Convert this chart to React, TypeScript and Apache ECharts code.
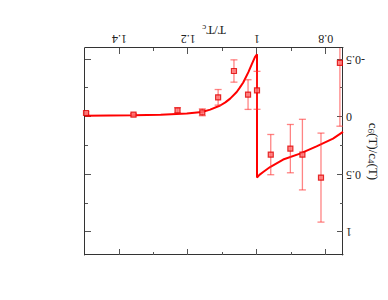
import React, { useEffect, useRef } from "react";
import * as echarts from "echarts";

// Fit curve (T/Tc, c6/c4)
const curveX = [0.75, 0.779, 0.827, 0.875, 0.924, 0.962, 0.982, 0.993, 1.0, 1.0, 1.006, 1.015, 1.025, 1.04, 1.05, 1.059, 1.078, 1.092, 1.107, 1.136, 1.16, 1.204, 1.28, 1.359, 1.5];
const curveY = [0.13, 0.188, 0.255, 0.318, 0.37, 0.435, 0.478, 0.503, 0.527, -0.545, -0.52, -0.46, -0.39, -0.3, -0.255, -0.217, -0.16, -0.127, -0.1, -0.064, -0.043, -0.03, -0.02, -0.015, -0.01];

// Lattice points
const ptX = [1.497, 1.359, 1.231, 1.159, 1.113, 1.067, 1.026, 1.0, 0.96, 0.903, 0.868, 0.814, 0.759];
const ptY = [-0.035, -0.021, -0.058, -0.041, -0.171, -0.4, -0.195, -0.232, 0.327, 0.275, 0.327, 0.527, -0.47];
const ptErr = [0.01, 0.01, 0.023, 0.03, 0.068, 0.097, 0.129, 0.165, 0.175, 0.21, 0.307, 0.387, 0.55];

const xMajor = [0.8, 1, 1.2, 1.4];
const xMinor = [0.9, 1.1, 1.3];
const yMajor = [-0.5, 0, 0.5, 1];
const yMinor = [-0.25, 0.25, 0.75];

const FONT = "Liberation Serif";

export default function App() {
  const ref = useRef<HTMLDivElement>(null);
  useEffect(() => {
    if (!ref.current) return;
    const chart = echarts.init(ref.current, null, { renderer: "svg" });
    const lineStyle = { color: "#333", width: 1 };
    const mkX = (pos: string, ticks: number[], len: number, label: boolean, line: boolean, extra: any = {}) => ({
      type: "value",
      position: pos,
      min: 0.75,
      max: 1.5,
      splitLine: { show: false },
      axisLine: { show: line, onZero: false, lineStyle },
      axisTick: { show: true, inside: true, length: len, customValues: ticks, lineStyle: { color: "#555", width: 1 } },
      axisLabel: label
        ? { show: true, customValues: ticks, margin: 3, color: "#222", fontFamily: FONT, fontSize: 12, formatter: (v: number) => String(v) }
        : { show: false },
      ...extra,
    });
    const mkY = (pos: string, ticks: number[], len: number, label: boolean, line: boolean, extra: any = {}) => ({
      type: "value",
      position: pos,
      min: -0.6,
      max: 1.2,
      splitLine: { show: false },
      axisLine: { show: line, onZero: false, lineStyle },
      axisTick: { show: true, inside: true, length: len, customValues: ticks, lineStyle: { color: "#555", width: 1 } },
      axisLabel: label
        ? { show: true, customValues: ticks, margin: 3, color: "#222", fontFamily: FONT, fontSize: 12, formatter: (v: number) => String(v) }
        : { show: false },
      ...extra,
    });
    const rich = {
      sub: { fontSize: 9, fontFamily: FONT, color: "#222", padding: [6, 0, 0, 0] },
    };
    const option: any = {
      animation: false,
      textStyle: { fontFamily: FONT },
      grid: { left: 45, right: 85, top: 45, bottom: 48, outerBoundsMode: "none", containLabel: false },
      xAxis: [
        mkX("bottom", xMajor, 6, true, true, {
          name: "T/T{sub|c}",
          nameLocation: "middle",
          nameGap: 10,
          nameMoveOverlap: false,
          nameTextStyle: { fontFamily: FONT, fontSize: 13, color: "#222", rich },
        }),
        mkX("bottom", xMinor, 3, false, false),
        mkX("top", xMajor, 6, false, true),
        mkX("top", xMinor, 3, false, false),
      ],
      yAxis: [
        mkY("left", yMajor, 6, true, true, {
          name: "c{sub|6}(T)/c{sub|4}(T)",
          nameLocation: "middle",
          nameGap: 23,
          nameMoveOverlap: false,
          nameTextStyle: { fontFamily: FONT, fontSize: 13, color: "#222", rich },
        }),
        mkY("left", yMinor, 3, false, false),
        mkY("right", yMajor, 6, false, true),
        mkY("right", yMinor, 3, false, false),
      ],
      series: [
        {
          type: "line",
          data: curveX.map((x, i) => [x, curveY[i]]),
          showSymbol: false,
          symbol: "none",
          lineStyle: { color: "#ff0000", width: 2 },
          clip: true,
          z: 2,
        },
        {
          type: "custom",
          clip: true,
          data: ptX.map((x, i) => [x, ptY[i], ptErr[i]]),
          renderItem: (params: any, api: any) => {
            const x = api.value(0);
            const y = api.value(1);
            const e = api.value(2);
            const a = api.coord([x, y - e]);
            const b = api.coord([x, y + e]);
            const w = 3.5;
            const st = { stroke: "rgba(255,50,50,0.6)", lineWidth: 1.3 };
            return {
              type: "group",
              children: [
                { type: "line", shape: { x1: a[0], y1: a[1], x2: b[0], y2: b[1] }, style: st },
                { type: "line", shape: { x1: a[0] - w, y1: a[1], x2: a[0] + w, y2: a[1] }, style: st },
                { type: "line", shape: { x1: b[0] - w, y1: b[1], x2: b[0] + w, y2: b[1] }, style: st },
              ],
            };
          },
          z: 3,
        },
        {
          type: "scatter",
          data: ptX.map((x, i) => [x, ptY[i]]),
          symbol: "rect",
          symbolSize: 5,
          itemStyle: { color: "#ff7070", borderColor: "#e00000", borderWidth: 1.2 },
          z: 4,
        },
      ],
    };
    chart.setOption(option);
    return () => chart.dispose();
  }, []);
  return (
    <div
      style={{ position: "absolute", left: 0, top: 0, width: 388, height: 300, transform: "rotate(180deg)" }}
    >
      <div ref={ref} style={{ width: 388, height: 300 }} />
    </div>
  );
}
